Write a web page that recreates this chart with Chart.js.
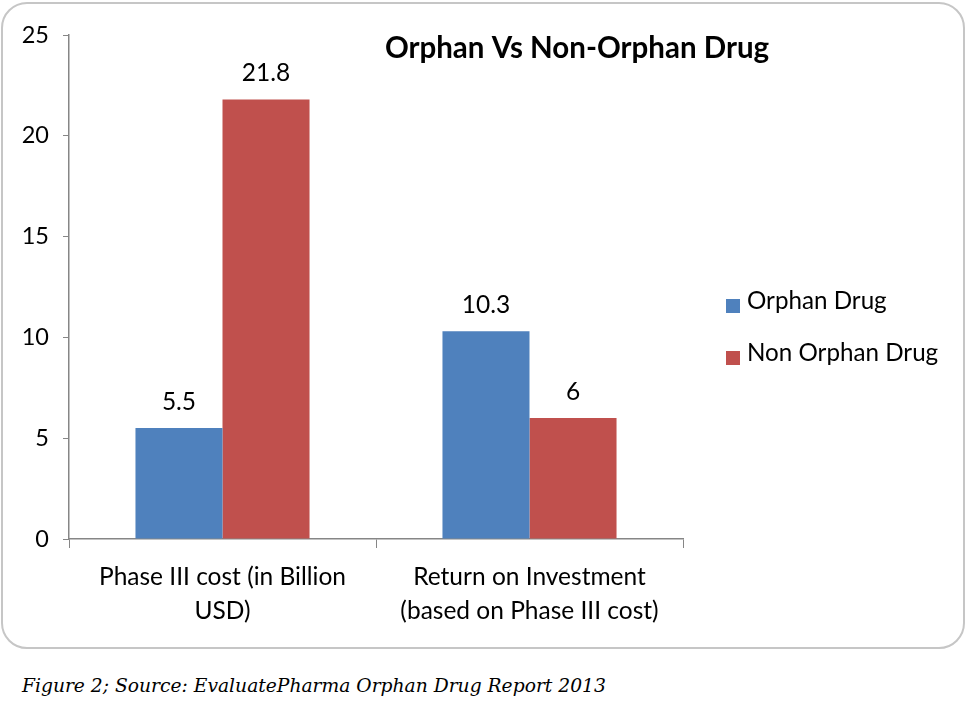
<!DOCTYPE html>
<html>
<head>
<meta charset="utf-8">
<script src="https://cdn.jsdelivr.net/npm/chart.js@4.4.1/dist/chart.umd.min.js"></script>
<style>
  html, body { margin: 0; padding: 0; background: #ffffff; }
  body { width: 968px; height: 714px; position: relative; overflow: hidden; }
  #frame { position: absolute; left: 1px; top: 2px; width: 960px; height: 643px;
           border: 2.5px solid #c6c6c6; border-radius: 26px; }
  #wrap { position: absolute; left: 0; top: 0; width: 968px; height: 650px; }
  #caption { position: absolute; left: 22px; top: 675px; font-family: "DejaVu Serif", "Liberation Serif", serif;
             font-style: italic; font-size: 18.7px; color: #000; white-space: nowrap; }
</style>
</head>
<body>
<div id="frame"></div>
<div id="wrap"><canvas id="c" width="968" height="650"></canvas></div>
<div id="caption">Figure 2; Source: EvaluatePharma Orphan Drug Report 2013</div>
<script>
const categories = [
  ['Phase III cost (in Billion', 'USD)'],
  ['Return on Investment', '(based on Phase III cost)']
];
const seriesNames = ['Orphan Drug', 'Non Orphan Drug'];
const orphanValues = [5.5, 10.3];
const nonOrphanValues = [21.8, 6];
const yTicks = [0, 5, 10, 15, 20, 25];
const titleText = 'Orphan Vs Non-Orphan Drug';

const FONT = 'Lato, "Open Sans", sans-serif';
const colors = ['#4F81BD', '#C0504D'];

const valueLabels = {
  id: 'valueLabels',
  afterDatasetsDraw(chart) {
    const ctx = chart.ctx;
    ctx.save();
    ctx.font = '24.5px ' + FONT;
    ctx.fillStyle = '#000';
    ctx.textAlign = 'center';
    ctx.textBaseline = 'middle';
    chart.data.datasets.forEach((ds, i) => {
      chart.getDatasetMeta(i).data.forEach((el, j) => {
        ctx.fillText(String(ds.data[j]), el.x, el.y - 26);
      });
    });
    ctx.restore();
  }
};

const titleAndLegend = {
  id: 'titleAndLegend',
  afterDraw(chart) {
    const ctx = chart.ctx;
    ctx.save();
    ctx.fillStyle = '#000';
    ctx.font = 'bold 29.5px ' + FONT;
    ctx.textAlign = 'center';
    ctx.textBaseline = 'middle';
    ctx.fillText(titleText, 577, 48);
    ctx.font = '24.2px ' + FONT;
    ctx.textAlign = 'left';
    chart.data.datasets.forEach((ds, i) => {
      const cy = 301 + i * 52;
      ctx.fillStyle = ds.backgroundColor;
      ctx.fillRect(726, cy - 2, 14, 14);
      ctx.fillStyle = '#000';
      ctx.fillText(ds.label, 747, cy);
    });
    ctx.restore();
  }
};

new Chart(document.getElementById('c'), {
  type: 'bar',
  data: {
    labels: categories,
    datasets: [
      { label: seriesNames[0], data: orphanValues, backgroundColor: colors[0] },
      { label: seriesNames[1], data: nonOrphanValues, backgroundColor: colors[1] }
    ]
  },
  options: {
    responsive: false,
    animation: false,
    devicePixelRatio: 1,
    layout: { padding: { left: 0, top: 35, right: 285, bottom: 11 } },
    datasets: { bar: { categoryPercentage: 0.567, barPercentage: 1.0 } },
    plugins: { legend: { display: false }, title: { display: false }, tooltip: { enabled: false } },
    scales: {
      x: {
        afterFit(s) { s.height = 100; },
        grid: { display: true, drawOnChartArea: false, drawTicks: true, tickLength: 9, color: '#868686', offset: true },
        border: { color: '#868686', width: 1.5 },
        ticks: { color: '#000', font: { family: FONT, size: 24.5, lineHeight: 1.4 }, padding: 12, maxRotation: 0, autoSkip: false }
      },
      y: {
        min: 0, max: 25,
        afterFit(s) { s.width = 69; },
        afterBuildTicks(s) { s.ticks = yTicks.map(v => ({ value: v })); },
        grid: { display: true, drawOnChartArea: false, drawTicks: true, tickLength: 6, color: '#868686' },
        border: { color: '#868686', width: 1.5 },
        ticks: { color: '#000', font: { family: FONT, size: 23.5 }, padding: 14 }
      }
    }
  },
  plugins: [valueLabels, titleAndLegend]
});
</script>
</body>
</html>
